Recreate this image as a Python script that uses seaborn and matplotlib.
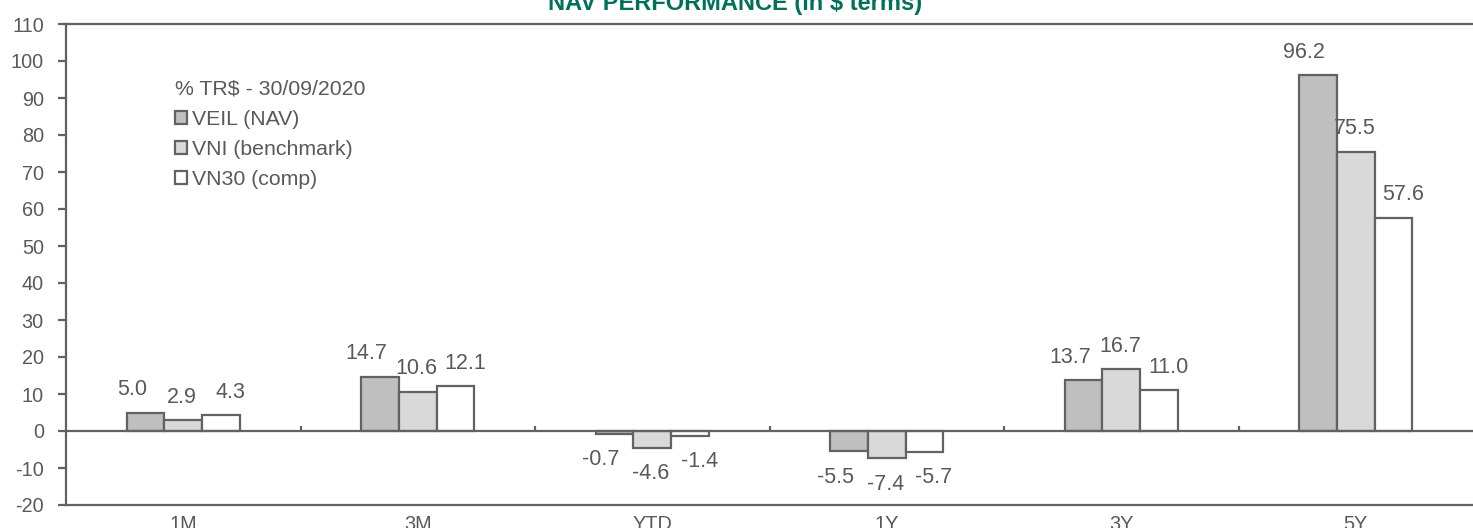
import numpy as np
import pandas as pd
import matplotlib
matplotlib.use("Agg")
import matplotlib.pyplot as plt
import seaborn as sns

periods = ["1M", "3M", "YTD", "1Y", "3Y", "5Y"]
series = ["VEIL (NAV)", "VNI (benchmark)", "VN30 (comp)"]
veil = [5.0, 14.7, -0.7, -5.5, 13.7, 96.2]
vni = [2.9, 10.6, -4.6, -7.4, 16.7, 75.5]
vn30 = [4.3, 12.1, -1.4, -5.7, 11.0, 57.6]
legend_title = "% TR$ - 30/09/2020"
title = "NAV PERFORMANCE (in $ terms)"
yticks = list(range(-20, 111, 10))

sns.set_theme(style="white")
plt.rcParams["font.family"] = ["Liberation Sans", "DejaVu Sans"]
plt.rcParams["axes.unicode_minus"] = False

TXT = "#595959"
EDGE = "#626262"
colors = ["#BFBFBF", "#D9D9D9", "#FFFFFF"]
label_dx = [-10, -1, 7]   # horizontal nudge (points) of data labels per series

df = pd.DataFrame({
    "period": np.tile(periods, 3),
    "series": np.repeat(series, len(periods)),
    "value": veil + vni + vn30,
})

W, H = 1473, 528
fig = plt.figure(figsize=(W / 100, H / 100), dpi=100)
ax = fig.add_axes([66 / W, (H - 505) / H, (W - 66) / W, (505 - 24) / H])

sns.barplot(data=df, x="period", y="value", hue="series", order=periods,
            hue_order=series, palette=colors, width=0.48, gap=0,
            edgecolor=EDGE, linewidth=1.6, saturation=1, ax=ax, legend=True)

ax.set_ylim(-20, 110)
ax.set_yticks(yticks)
ax.set_xlim(-0.5, len(periods) - 0.5)
ax.set_xlabel("")
ax.set_ylabel("")

for s in ["left", "top", "bottom"]:
    ax.spines[s].set_color(EDGE)
    ax.spines[s].set_linewidth(1.6)
ax.spines["right"].set_visible(False)

ax.tick_params(axis="y", which="both", left=True, length=6, width=1.6,
               color=EDGE, labelsize=14.3, labelcolor=TXT, pad=10)
ax.tick_params(axis="x", bottom=False, labelsize=14.3, labelcolor=TXT, pad=1.5)

# zero line with category-boundary ticks
ax.axhline(0, color=EDGE, linewidth=1.6, zorder=3)
bounds = np.arange(len(periods) - 1) + 0.5
ax.vlines(bounds, 0, 1.4, color=EDGE, linewidth=1.6, zorder=3)

# data labels
LFS = 15.5
for i, cont in enumerate(ax.containers):
    dx = label_dx[i]
    for bar in cont:
        v = bar.get_height()
        xc = bar.get_x() + bar.get_width() / 2
        if v >= 0:
            ax.annotate(f"{v:.1f}", (xc, v), xytext=(dx, 9), textcoords="offset points",
                        ha="center", va="bottom", fontsize=LFS, color=TXT)
        else:
            ax.annotate(f"{v:.1f}", (xc, v), xytext=(dx, -11), textcoords="offset points",
                        ha="center", va="top", fontsize=LFS, color=TXT)

handles, labels = ax.get_legend_handles_labels()
leg = ax.legend(handles, labels, title=legend_title, loc="upper left",
                bbox_to_anchor=(175 / W, (H - 80) / H), bbox_transform=fig.transFigure,
                frameon=False, fontsize=15.3, title_fontsize=15.3, alignment="left",
                handlelength=0.56, handleheight=0.56, handletextpad=0.22,
                labelspacing=0.52, borderpad=0, borderaxespad=0)
leg._legend_box.sep = 8
leg.get_title().set_color(TXT)
for t in leg.get_texts():
    t.set_color(TXT)
for h in leg.legend_handles:
    h.set_edgecolor(EDGE)
    h.set_linewidth(1.6)

fig.text(735 / W, (H - 10) / H, title, ha="center", va="baseline",
         fontsize=17, fontweight="bold", color="#00705A")

fig.savefig("out.png", dpi=100)
